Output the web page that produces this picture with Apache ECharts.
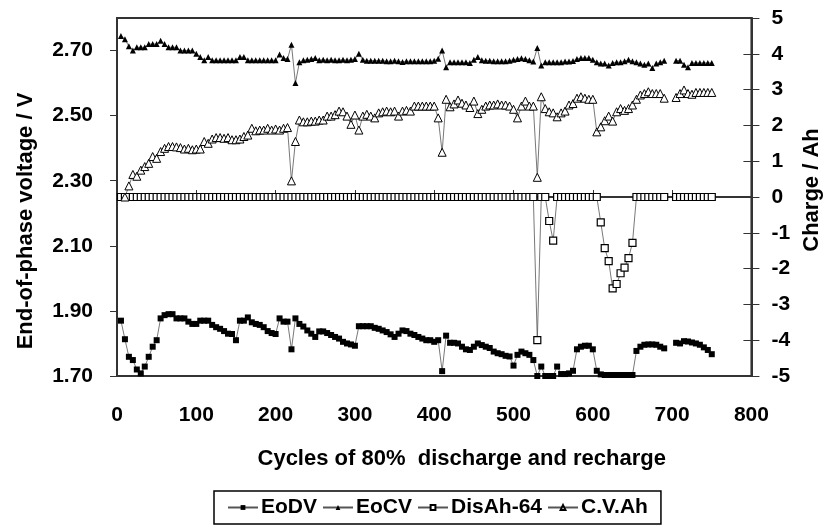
<!DOCTYPE html>
<html>
<head>
<meta charset="utf-8">
<script src="https://cdn.jsdelivr.net/npm/echarts@6/dist/echarts.min.js"></script>
<style>
  html, body { margin: 0; padding: 0; background: #fff; }
  #main { width: 831px; height: 527px; }
</style>
</head>
<body>
<div id="main"></div>
<script>
// cycle number of every sample
var cycles = [
  5, 10, 15, 20, 25, 30, 35, 40, 45, 50, 55, 60, 65, 70, 75, 80, 85, 90, 95, 100,
  105, 110, 115, 120, 125, 130, 135, 140, 145, 150, 155, 160, 165, 170, 175, 180, 185, 190, 195, 200,
  205, 210, 215, 220, 225, 230, 235, 240, 245, 250, 255, 260, 265, 270, 275, 280, 285, 290, 295, 300,
  305, 310, 315, 320, 325, 330, 335, 340, 345, 350, 355, 360, 365, 370, 375, 380, 385, 390, 395, 400,
  405, 410, 415, 420, 425, 430, 435, 440, 445, 450, 455, 460, 465, 470, 475, 480, 485, 490, 495, 500,
  505, 510, 515, 520, 525, 530, 535, 540, 545, 550, 555, 560, 565, 570, 575, 580, 585, 590, 595, 600,
  605, 610, 615, 620, 625, 630, 635, 640, 645, 650, 655, 660, 665, 670, 675, 680, 685, 690, 695, 700,
  705, 710, 715, 720, 725, 730, 735, 740, 745, 750
];

// end of discharge voltage (V)
var eodv = [
  1.870, 1.813, 1.759, 1.749, 1.720, 1.708, 1.729, 1.759, 1.790, 1.810, 1.877, 1.887, 1.890, 1.890, 1.877, 1.877, 1.877, 1.867, 1.860, 1.860,
  1.870, 1.870, 1.870, 1.857, 1.850, 1.845, 1.838, 1.830, 1.829, 1.810, 1.870, 1.870, 1.880, 1.865, 1.860, 1.857, 1.850, 1.838, 1.832, 1.829,
  1.877, 1.867, 1.867, 1.782, 1.877, 1.860, 1.852, 1.840, 1.830, 1.820, 1.837, 1.837, 1.832, 1.826, 1.820, 1.815, 1.805, 1.800, 1.797, 1.793,
  1.853, 1.853, 1.853, 1.853, 1.848, 1.845, 1.840, 1.835, 1.828, 1.820, 1.830, 1.840, 1.838, 1.830, 1.826, 1.820, 1.815, 1.810, 1.810, 1.805,
  1.810, 1.715, 1.824, 1.802, 1.802, 1.800, 1.790, 1.782, 1.780, 1.790, 1.800, 1.795, 1.790, 1.786, 1.775, 1.770, 1.767, 1.762, 1.760, 1.732,
  1.765, 1.775, 1.770, 1.765, 1.749, 1.700, 1.729, 1.700, 1.700, 1.700, 1.729, 1.706, 1.706, 1.708, 1.716, 1.782, 1.790, 1.793, 1.793, 1.782,
  1.716, 1.705, 1.703, 1.703, 1.703, 1.703, 1.703, 1.703, 1.703, 1.703, 1.777, 1.790, 1.796, 1.797, 1.797, 1.796, 1.790, 1.785, null, null,
  1.802, 1.800, 1.807, 1.806, 1.803, 1.800, 1.796, 1.788, 1.780, 1.767
];

// end of charge voltage (V)
var eocv = [
  2.745, 2.735, 2.713, 2.700, 2.710, 2.710, 2.710, 2.720, 2.720, 2.720, 2.730, 2.720, 2.710, 2.710, 2.710, 2.700, 2.700, 2.700, 2.700, 2.690,
  2.680, 2.670, 2.680, 2.670, 2.670, 2.670, 2.670, 2.670, 2.670, 2.670, 2.680, 2.680, 2.670, 2.670, 2.670, 2.670, 2.670, 2.670, 2.670, 2.670,
  2.688, 2.677, 2.674, 2.718, 2.600, 2.664, 2.670, 2.672, 2.674, 2.677, 2.670, 2.672, 2.670, 2.672, 2.670, 2.670, 2.672, 2.670, 2.672, 2.674,
  2.690, 2.672, 2.669, 2.669, 2.669, 2.669, 2.669, 2.667, 2.667, 2.669, 2.667, 2.665, 2.667, 2.667, 2.667, 2.667, 2.667, 2.667, 2.667, 2.669,
  2.675, 2.700, 2.649, 2.664, 2.664, 2.664, 2.664, 2.664, 2.662, 2.672, 2.680, 2.670, 2.669, 2.669, 2.667, 2.667, 2.667, 2.667, 2.669, 2.672,
  2.674, 2.676, 2.674, 2.670, 2.666, 2.708, 2.654, 2.664, 2.664, 2.664, 2.664, 2.664, 2.666, 2.666, 2.668, 2.674, 2.677, 2.677, 2.677, 2.672,
  2.664, 2.660, 2.660, 2.654, 2.662, 2.664, 2.664, 2.667, 2.672, 2.667, 2.664, 2.660, 2.656, 2.660, 2.646, 2.660, 2.664, 2.669, null, null,
  2.669, 2.669, 2.656, 2.649, 2.662, 2.662, 2.662, 2.662, 2.662, 2.662
];

// discharged Ah below the 64 Ah nominal
var disAh64 = [
  0, 0, 0, 0, 0, 0, 0, 0, 0, 0, 0, 0, 0, 0, 0, 0, 0, 0, 0, 0,
  0, 0, 0, 0, 0, 0, 0, 0, 0, 0, 0, 0, 0, 0, 0, 0, 0, 0, 0, 0,
  0, 0, 0, 0, 0, 0, 0, 0, 0, 0, 0, 0, 0, 0, 0, 0, 0, 0, 0, 0,
  0, 0, 0, 0, 0, 0, 0, 0, 0, 0, 0, 0, 0, 0, 0, 0, 0, 0, 0, 0,
  0, 0, 0, 0, 0, 0, 0, 0, 0, 0, 0, 0, 0, 0, 0, 0, 0, 0, 0, 0,
  0, 0, 0, 0, 0, -4.0, 0, 0, -0.67, -1.22, 0, 0, 0, 0, 0, 0, 0, 0, 0, 0,
  0, -0.71, -1.43, -1.79, -2.55, -2.43, -2.13, -1.97, -1.71, -1.28, 0, 0, 0, 0, 0, 0, 0, 0, null, null,
  0, 0, 0, 0, 0, 0, 0, 0, 0, 0
];

// Ah put in during the constant-voltage phase
var cvAh = [
  null, 0.00, 0.31, 0.63, 0.58, 0.75, 0.85, 0.94, 1.13, 1.08, 1.27, 1.36, 1.41, 1.41, 1.40, 1.38, 1.34, 1.36, 1.32, 1.34,
  1.34, 1.55, 1.50, 1.62, 1.66, 1.66, 1.64, 1.66, 1.60, 1.60, 1.62, 1.69, 1.73, 1.92, 1.85, 1.87, 1.87, 1.92, 1.87, 1.90,
  1.87, 1.92, 1.94, 0.45, 1.55, 2.15, 2.10, 2.10, 2.12, 2.12, 2.15, 2.15, 2.26, 2.26, 2.30, 2.40, 2.38, 2.26, 2.03, 2.29,
  1.87, 2.26, 2.31, 2.26, 2.21, 2.35, 2.38, 2.40, 2.38, 2.40, 2.26, 2.40, 2.42, 2.40, 2.54, 2.54, 2.54, 2.54, 2.54, 2.54,
  2.21, 1.25, 2.73, 2.52, 2.60, 2.71, 2.62, 2.57, 2.50, 2.68, 2.33, 2.45, 2.54, 2.57, 2.57, 2.60, 2.57, 2.57, 2.54, 2.45,
  2.21, 2.54, 2.68, 2.54, 2.54, 0.55, 2.80, 2.47, 2.38, 2.35, 2.24, 2.35, 2.40, 2.57, 2.61, 2.76, 2.80, 2.76, 2.73, 2.73,
  1.82, 1.96, 2.13, 2.26, 2.12, 2.38, 2.47, 2.42, 2.47, 2.57, 2.73, 2.85, 2.89, 2.94, 2.89, 2.89, 2.89, 2.76, null, null,
  2.78, 2.89, 2.99, 2.89, 2.87, 2.92, 2.92, 2.92, 2.92, 2.92
];

var voltTicks = [1.7, 1.9, 2.1, 2.3, 2.5, 2.7];

function pairs(arr) {
  return cycles.map(function (c, i) { return [c, arr[i]]; });
}

var font = 'Liberation Sans, Arial, Helvetica, sans-serif';
var axisColor = '#333';
var labelStyle = { color: '#000', fontFamily: font, fontWeight: 'bold', fontSize: 21 };
var nameStyle = { color: '#000', fontFamily: font, fontWeight: 'bold', fontSize: 22 };

var chart = echarts.init(document.getElementById('main'));

var option = {
  animation: false,
  backgroundColor: '#fff',
  grid: {
    left: 117, right: 74, top: 18, bottom: 151,
    show: true, borderColor: axisColor, borderWidth: 2
  },
  legend: {
    left: 214, top: 491,
    padding: [6, 13, 6, 13],
    itemGap: 5,
    itemWidth: 30,
    itemHeight: 6,
    borderColor: '#000',
    borderWidth: 1.5,
    borderRadius: 0,
    textStyle: { color: '#000', fontFamily: font, fontWeight: 'bold', fontSize: 21, padding: [0, 0, 0, -2] },
    data: ['EoDV', 'EoCV', 'DisAh-64', 'C.V.Ah']
  },
  xAxis: {
    type: 'value',
    min: 0, max: 800, interval: 100,
    name: 'Cycles of 80%  discharge and recharge',
    nameLocation: 'middle',
    nameGap: 72,
    nameTextStyle: Object.assign({ padding: [0, 0, 0, 55] }, nameStyle),
    axisLine: { lineStyle: { color: axisColor, width: 2 } },
    axisTick: { inside: true, length: 7, lineStyle: { color: axisColor, width: 1 } },
    axisLabel: Object.assign({ margin: 29 }, labelStyle),
    splitLine: { show: false }
  },
  yAxis: [
    {
      type: 'value',
      position: 'left',
      min: 1.7, max: 2.8, interval: 0.1,
      name: 'End-of-phase voltage / V',
      nameLocation: 'middle',
      nameRotate: 90,
      nameGap: 80,
      nameTextStyle: Object.assign({ padding: [0, 48, 0, 0] }, nameStyle),
      axisLine: { show: true, lineStyle: { color: axisColor, width: 2 } },
      axisTick: { inside: false, length: 7, customValues: voltTicks, lineStyle: { color: axisColor, width: 1 } },
      axisLabel: Object.assign({
        margin: 24,
        customValues: voltTicks,
        formatter: function (v) { return v.toFixed(2); }
      }, labelStyle),
      splitLine: { show: false }
    },
    {
      type: 'value',
      position: 'right',
      min: -5, max: 5, interval: 1,
      name: 'Charge / Ah',
      nameLocation: 'middle',
      nameRotate: 90,
      nameGap: 48,
      nameTextStyle: Object.assign({ padding: [0, 0, 0, 14] }, nameStyle),
      axisLine: { show: true, lineStyle: { color: axisColor, width: 2 } },
      axisTick: { inside: false, length: 8, lineStyle: { color: axisColor, width: 1 } },
      axisLabel: Object.assign({ margin: 20 }, labelStyle),
      splitLine: { show: false }
    },
    {
      // inner half of the crossing ticks on the right axis
      type: 'value',
      position: 'right',
      min: -5, max: 5, interval: 1,
      axisLine: { show: false },
      axisTick: { show: true, inside: true, length: 8, lineStyle: { color: axisColor, width: 1 } },
      axisLabel: { show: false },
      splitLine: { show: false }
    }
  ],
  series: [
    {
      name: 'EoDV', type: 'line', yAxisIndex: 0,
      data: pairs(eodv),
      symbol: 'rect', symbolSize: 6, showAllSymbol: true,
      itemStyle: { color: '#000' },
      lineStyle: { color: '#555', width: 0.8 }
    },
    {
      name: 'EoCV', type: 'line', yAxisIndex: 0,
      data: pairs(eocv),
      symbol: 'triangle', symbolSize: 6, showAllSymbol: true,
      itemStyle: { color: '#000' },
      lineStyle: { color: '#555', width: 0.8 }
    },
    {
      name: 'DisAh-64', type: 'line', yAxisIndex: 1,
      data: pairs(disAh64),
      symbol: 'rect', symbolSize: 7, showAllSymbol: true,
      itemStyle: { color: '#fff', borderColor: '#000', borderWidth: 1.2 },
      lineStyle: { color: '#555', width: 0.8 }
    },
    {
      name: 'C.V.Ah', type: 'line', yAxisIndex: 1,
      data: pairs(cvAh),
      symbol: 'triangle', symbolSize: 8, showAllSymbol: true,
      itemStyle: { color: '#fff', borderColor: '#000', borderWidth: 1 },
      lineStyle: { color: '#555', width: 0.8 }
    }
  ]
};

chart.setOption(option);
</script>
</body>
</html>
